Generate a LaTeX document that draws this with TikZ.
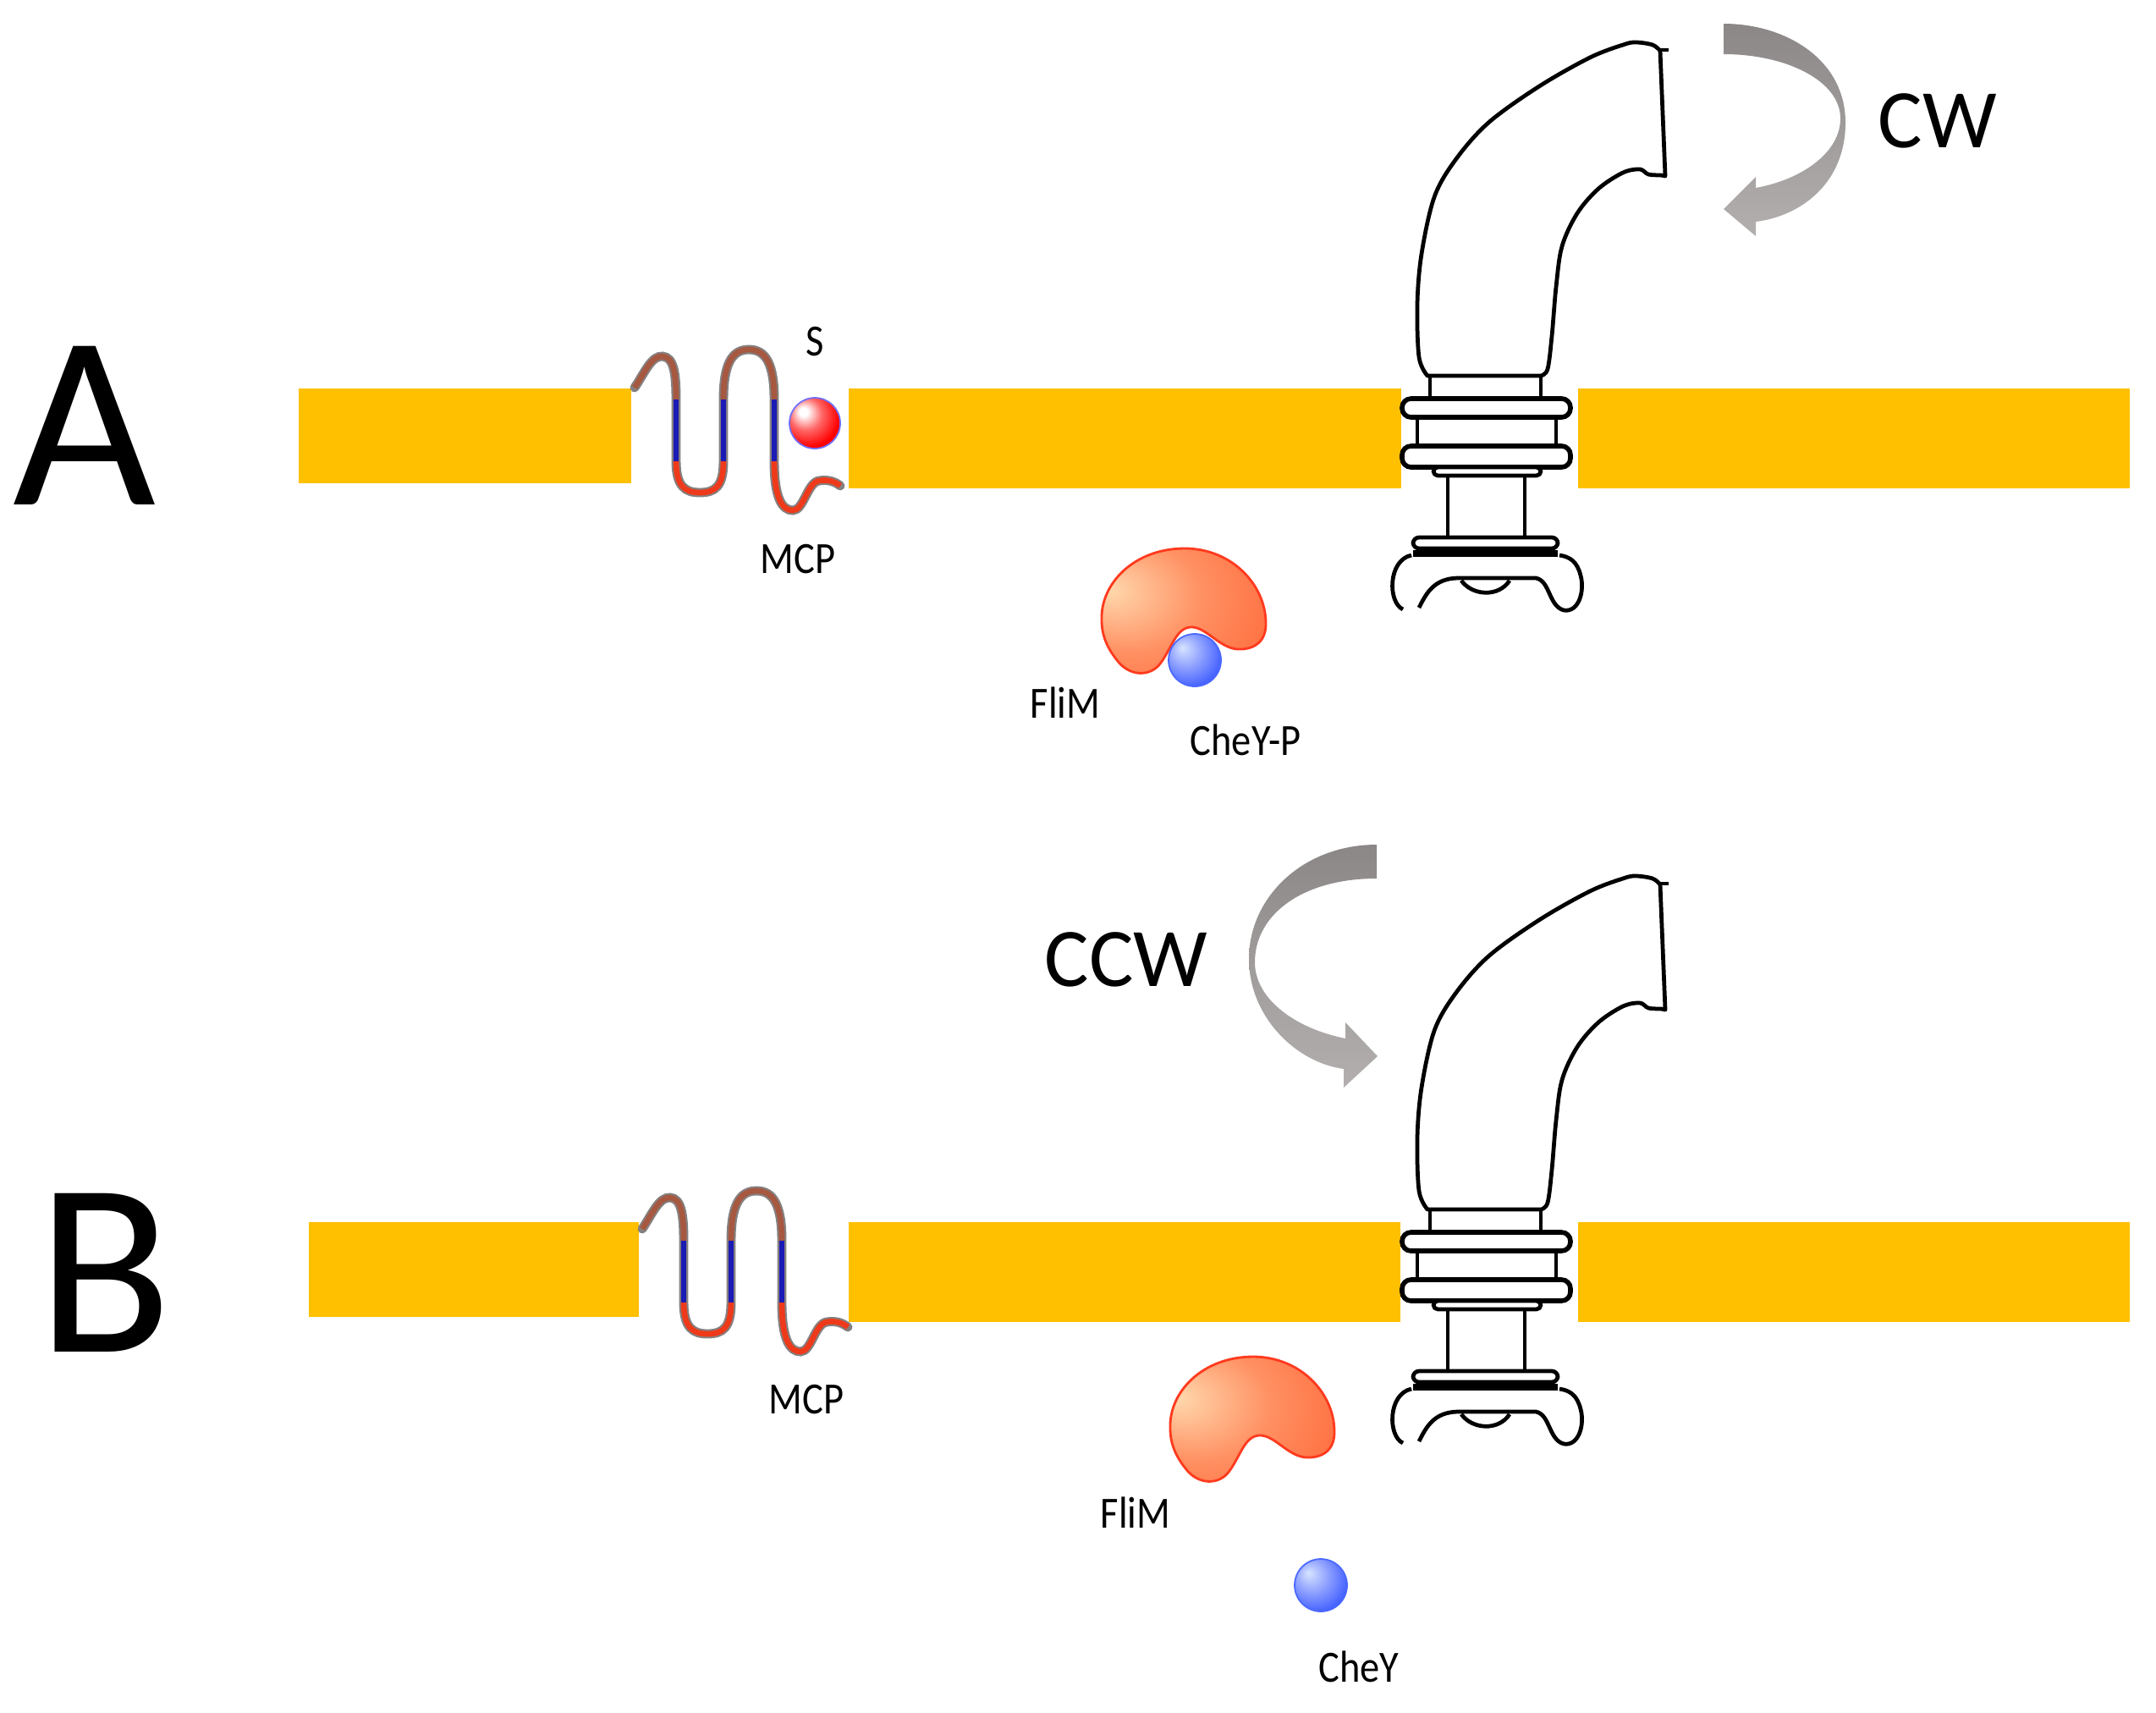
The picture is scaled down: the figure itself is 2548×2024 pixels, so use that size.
\documentclass[tikz,border=0pt]{standalone}
\usepackage{fontspec}
\setmainfont{Carlito}
\usepackage{graphicx}

\definecolor{membraneyellow}{HTML}{FFC000}
\definecolor{arrowdark}{HTML}{8B8786}
\definecolor{arrowmid}{HTML}{9F9C9B}
\definecolor{arrowlight}{HTML}{B2AFAE}
\definecolor{mcpbrown}{HTML}{A65840}
\definecolor{mcpblue}{HTML}{1B1BB5}
\definecolor{mcpred}{HTML}{EE3A1A}
\definecolor{mcpedge}{HTML}{858080}
\definecolor{flimlight}{HTML}{FFD9AE}
\definecolor{flimdark}{HTML}{FF5424}
\definecolor{flimedge}{HTML}{FF3A1E}
\definecolor{cheyblue}{HTML}{2F50FF}
\definecolor{cheylight}{HTML}{D6E4FF}
\definecolor{cheyedge}{HTML}{4A68FF}
\definecolor{sred}{HTML}{FF0000}
\definecolor{sedge}{HTML}{7070FF}

\pgfdeclareradialshading{ballred}{\pgfpoint{-12bp}{12bp}}{color(0bp)=(white); color(4bp)=(white); color(16bp)=(sred!60!white); color(30bp)=(sred); color(65bp)=(sred!90!black)}
\pgfdeclareradialshading{ballblue}{\pgfpoint{-12bp}{12bp}}{color(0bp)=(cheylight); color(14bp)=(cheyblue!50!white); color(36bp)=(cheyblue); color(60bp)=(cheyblue!90!black)}
\pgfdeclareradialshading{flimshade}{\pgfpoint{-23bp}{9bp}}{color(0bp)=(flimlight); color(22bp)=(flimdark!55!flimlight); color(55bp)=(flimdark); color(75bp)=(flimdark)}

\newcommand{\Narrow}[1]{\scalebox{0.88}[1]{#1}}

\begin{document}
\begin{tikzpicture}
	[x=0.01cm, y=-0.01cm,
	 membrane/.style={fill=membraneyellow},
	 motorline/.style={line width=1.35pt, black, line join=round},
	 ringline/.style={line width=1.6pt, black, fill=white, rounded corners=3pt},
	 mcpoutline/.style={line width=3.1pt, mcpedge, line cap=round},
	 mcpline/.style={line width=1.9pt},
	 rotarrow/.style={top color=arrowdark, bottom color=arrowlight, middle color=arrowmid},
	 panellabel/.style={font=\fontsize{83}{90}\selectfont, inner sep=0pt, anchor=base},
	 sense/.style={font=\fontsize{28}{32}\selectfont, inner sep=0pt, anchor=base},
	 tag/.style={font=\fontsize{15}{18}\selectfont, inner sep=0pt, anchor=base}]

	\useasboundingbox (0,0) rectangle (2548,2024);

	% flagellar motor with hook (panel A position)
	\newcommand{\MotorShape}{%
		% hook
		\draw[motorline, fill=white]
			plot[smooth, tension=0.55] coordinates {(1687,444) (1677,422) (1675,359) (1680,300) (1695,233) (1720,189) (1759,145) (1819,102) (1879,68) (1918,53) (1933,50) (1953,53) (1962,60)}
			-- (1968,208)
			-- plot[smooth, tension=0.55] coordinates {(1963,207) (1948,206) (1938,200) (1918,204) (1889,223) (1864,252) (1846,291) (1839,339) (1834,397) (1829,436) (1821,444)}
			-- cycle;
		\draw[motorline] (1960,59) -- (1972,59);
		% neck and rings
		\draw[motorline] (1690,444) -- (1690,471) (1821,444) -- (1821,471);
		\draw[ringline] (1657,471) rectangle (1856,493);
		\draw[motorline] (1675,493) -- (1675,527) (1839,493) -- (1839,527);
		\draw[ringline] (1657,527) rectangle (1856,552);
		\draw[motorline, fill=white, rounded corners=1.5pt] (1694,552) rectangle (1821,562);
		% shaft
		\draw[motorline] (1711,562) -- (1711,635) (1802,562) -- (1802,635);
		\draw[motorline, fill=white, rounded corners=2pt] (1670,635) rectangle (1841,648);
		\draw[line width=2.2pt] (1670,654) -- (1841,654);
		% C ring
		\draw[motorline] (1668,656) .. controls (1640,662) and (1640,712) .. (1658,720);
		\draw[motorline] (1677,718) .. controls (1686,700) and (1695,684) .. (1722,683) -- (1815,683)
			.. controls (1832,686) and (1830,716) .. (1848,721)
			.. controls (1866,724) and (1873,698) .. (1868,680)
			.. controls (1864,664) and (1856,658) .. (1843,656);
		\draw[motorline] (1727,686) .. controls (1740,704) and (1771,706) .. (1784,686);
	}

	% chemoreceptor (panel A position)
	\newcommand{\ReceptorShape}{%
		\draw[mcpoutline] (750,458) .. controls (762,440) and (770,420) .. (783,421)
			.. controls (796,422) and (799,440) .. (799,472) -- (799,545)
			.. controls (799,575) and (810,582) .. (827,582) .. controls (845,582) and (855,575) .. (855,545)
			-- (855,472) .. controls (855,430) and (865,413) .. (885,413) .. controls (905,413) and (915,430) .. (915,472)
			-- (915,545) .. controls (915,590) and (925,603) .. (937,603)
			.. controls (950,603) and (954,570) .. (968,568) .. controls (980,566) and (988,570) .. (993,574);
		\begin{scope}[mcpline]
			\draw[mcpbrown] (750,458) .. controls (762,440) and (770,420) .. (783,421)
				.. controls (796,422) and (799,440) .. (799,472);
			\draw[mcpbrown] (855,472) .. controls (855,430) and (865,413) .. (885,413) .. controls (905,413) and (915,430) .. (915,472);
			\foreach \x in {799, 855, 915} {
				\draw[mcpblue] (\x,472) -- (\x,545);
			}
			\draw[mcpred] (799,545) .. controls (799,575) and (810,582) .. (827,582) .. controls (845,582) and (855,575) .. (855,545);
			\draw[mcpred] (915,545) .. controls (915,590) and (925,603) .. (937,603)
				.. controls (950,603) and (954,570) .. (968,568) .. controls (980,566) and (988,570) .. (993,574);
		\end{scope}
	}

	% FliM (panel A position)
	\newcommand{\SwitchShape}{%
		\shadedraw[shading=flimshade, draw=flimedge, line width=0.8pt]
			(1302,733) .. controls (1300,690) and (1340,648) .. (1400,648)
			.. controls (1455,648) and (1495,690) .. (1496,735)
			.. controls (1497,760) and (1480,768) .. (1462,767)
			.. controls (1440,765) and (1425,740) .. (1407,741)
			.. controls (1390,742) and (1385,765) .. (1372,783)
			.. controls (1360,800) and (1335,800) .. (1320,780)
			.. controls (1308,765) and (1302,750) .. (1302,733) -- cycle;
	}

	% membranes
	\begin{scope}
		\foreach \xa/\ya/\xb/\yb in {353/459/746/571, 1003/459/1656/577, 1865/459/2517/577,
		                             365/1444/755/1556, 1003/1444/1655/1562, 1865/1444/2517/1562} {
			\fill[membrane] (\xa,\ya) rectangle (\xb,\yb);
		}
	\end{scope}

	% panel A
	\begin{scope}
		\node[panellabel] (panelA) at (100,596) {A};
		\MotorShape
		\ReceptorShape
		\shadedraw[shading=ballred, draw=sedge, line width=0.5pt] (963,500) circle (30);
		\node[tag] (attractant) at (963,420) {\Narrow{S}};
		\node[tag] (mcpA) at (943,677) {\Narrow{MCP}};
		\SwitchShape
		\shadedraw[shading=ballblue, draw=cheyedge, line width=0.5pt] (1412,780) circle (31);
		\node[tag] (flimA) at (1259,848) {\Narrow{FliM}};
		\node[tag] (cheyp) at (1472,892) {\Narrow{CheY-P}};

		% clockwise rotation
		\shade[rotarrow] (2037,28) .. controls (2110,28) and (2181,70) .. (2181,145)
			.. controls (2181,215) and (2130,255) .. (2075,262) -- (2075,279) -- (2037,247) -- (2075,209) -- (2075,222)
			.. controls (2130,212) and (2175,180) .. (2175,140)
			.. controls (2175,95) and (2110,64) .. (2037,64) -- cycle;
		\node[sense] (cw) at (2290,174) {CW};
	\end{scope}

	% panel B
	\begin{scope}
		\node[panellabel] (panelB) at (124,1597) {B};
		\begin{scope}[shift={(0,985)}]
			\MotorShape
		\end{scope}
		\begin{scope}[shift={(9,994)}]
			\ReceptorShape
		\end{scope}
		\node[tag] (mcpB) at (953,1670) {\Narrow{MCP}};
		\begin{scope}[shift={(81,955)}]
			\SwitchShape
		\end{scope}
		\node[tag] (flimB) at (1342,1805) {\Narrow{FliM}};
		\shadedraw[shading=ballblue, draw=cheyedge, line width=0.5pt] (1561,1873) circle (31);
		\node[tag] (chey) at (1606,1987) {\Narrow{CheY}};

		% counterclockwise rotation
		\shade[rotarrow] (1627,998) .. controls (1540,998) and (1476,1060) .. (1476,1133)
			.. controls (1476,1200) and (1530,1255) .. (1588,1263) -- (1588,1285) -- (1628,1248) -- (1590,1208) -- (1590,1227)
			.. controls (1530,1215) and (1483,1180) .. (1483,1137)
			.. controls (1483,1080) and (1540,1038) .. (1627,1038) -- cycle;
		\node[sense] (ccw) at (1331,1165) {CCW};
	\end{scope}

\end{tikzpicture}
\end{document}
